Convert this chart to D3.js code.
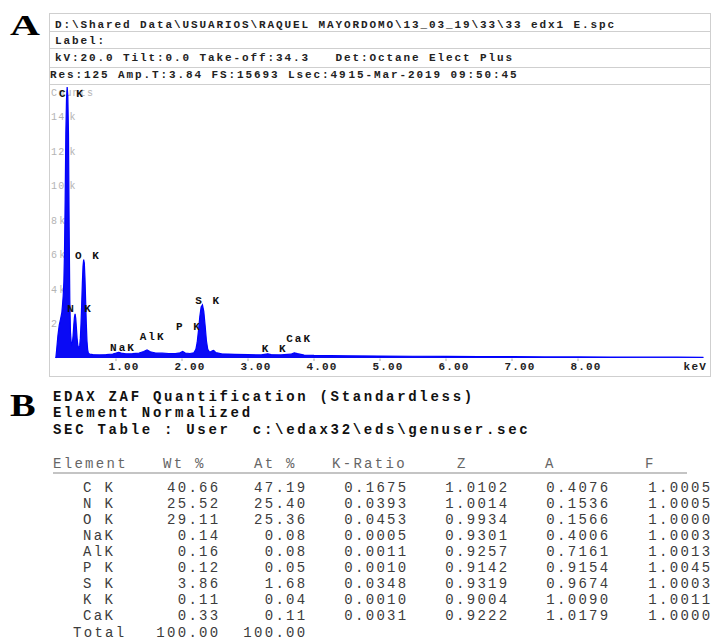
<!DOCTYPE html>
<html>
<head>
<meta charset="utf-8">
<script src="https://cdn.jsdelivr.net/npm/d3@7"></script>
<style>
  body { margin: 0; background: #fff; }
  text { white-space: pre; }
</style>
</head>
<body>
<svg id="chart" width="712" height="639"></svg>
<script>
// panel A header lines
const headerLines = [
  'D:\\Shared Data\\USUARIOS\\RAQUEL MAYORDOMO\\13_03_19\\33\\33 edx1 E.spc',
  'Label:',
  'kV:20.0 Tilt:0.0 Take-off:34.3   Det:Octane Elect Plus',
  'Res:125 Amp.T:3.84 FS:15693 Lsec:49'
]
const acqDate = '15-Mar-2019 09:50:45'

// spectrum, [keV, counts]
const spectrum = [
  [0.085, 0], [0.09, 60], [0.10, 450], [0.12, 1300], [0.14, 1900], [0.16, 2250],
  [0.18, 2650], [0.19, 3100], [0.20, 3600], [0.21, 4400], [0.22, 6200], [0.23, 9200],
  [0.24, 13000], [0.25, 15000], [0.26, 15693], [0.27, 15200], [0.28, 13000], [0.29, 7600],
  [0.30, 3400], [0.31, 1500], [0.32, 950], [0.33, 780], [0.34, 900], [0.35, 1300],
  [0.36, 1900], [0.37, 2350], [0.38, 2560], [0.39, 2300], [0.40, 1750], [0.41, 1150],
  [0.42, 780], [0.43, 620], [0.44, 580], [0.45, 700], [0.46, 1150], [0.47, 2000],
  [0.48, 3100], [0.49, 4300], [0.50, 5300], [0.51, 5700], [0.52, 5500], [0.53, 4600],
  [0.54, 3300], [0.55, 2000], [0.56, 1000], [0.57, 500], [0.58, 300], [0.60, 220],
  [0.65, 200], [0.75, 180], [0.85, 200], [0.95, 230], [1.00, 280], [1.04, 330],
  [1.08, 280], [1.15, 240], [1.25, 250], [1.35, 280], [1.42, 380], [1.47, 470],
  [1.52, 360], [1.60, 290], [1.70, 280], [1.80, 260], [1.90, 250], [1.97, 300],
  [2.01, 380], [2.05, 290], [2.12, 260], [2.18, 300], [2.21, 500], [2.23, 900],
  [2.25, 1600], [2.27, 2400], [2.29, 2950], [2.31, 3080], [2.33, 2700], [2.35, 1900],
  [2.37, 1000], [2.39, 500], [2.42, 330], [2.46, 420], [2.48, 440], [2.51, 320],
  [2.60, 240], [2.80, 210], [3.00, 190], [3.20, 180], [3.30, 240], [3.35, 200],
  [3.50, 180], [3.65, 220], [3.70, 300], [3.75, 250], [3.85, 170], [4.00, 150],
  [4.50, 130], [5.00, 110], [5.50, 100], [6.00, 90], [6.50, 80], [7.00, 75],
  [7.50, 65], [8.00, 60], [8.50, 55], [9.00, 50], [9.50, 45], [9.90, 40]
]

// peak labels: name, keV where the label starts, count level of its baseline
const peakNames = ['C K', 'N K', 'O K', 'NaK', 'AlK', 'P K', 'S K', 'K K', 'CaK']
const peakLabelKeV = [0.136, 0.26, 0.38, 0.91, 1.36, 1.91, 2.20, 3.21, 3.58]
const peakLabelCounts = [15100, 2660, 5730, 430, 1040, 1620, 3130, 350, 930]

const xTicks = [1, 2, 3, 4, 5, 6, 7, 8]
const yTicks = [2000, 4000, 6000, 8000, 10000, 12000, 14000]
const fullScale = 15693

// panel B
const quantLines = [
  'EDAX ZAF Quantification (Standardless)',
  'Element Normalized',
  'SEC Table : User  c:\\edax32\\eds\\genuser.sec'
]
const columns = ['Element', 'Wt %', 'At %', 'K-Ratio', 'Z', 'A', 'F']
const elements = ['C K', 'N K', 'O K', 'NaK', 'AlK', 'P K', 'S K', 'K K', 'CaK']
const wtPct = [40.66, 25.52, 29.11, 0.14, 0.16, 0.12, 3.86, 0.11, 0.33]
const atPct = [47.19, 25.40, 25.36, 0.08, 0.08, 0.05, 1.68, 0.04, 0.11]
const kRatio = [0.1675, 0.0393, 0.0453, 0.0005, 0.0011, 0.0010, 0.0348, 0.0010, 0.0031]
const zCorr = [1.0102, 1.0014, 0.9934, 0.9301, 0.9257, 0.9142, 0.9319, 0.9004, 0.9222]
const aCorr = [0.4076, 0.1536, 0.1566, 0.4006, 0.7161, 0.9154, 0.9674, 1.0090, 1.0179]
const fCorr = [1.0005, 1.0005, 1.0000, 1.0003, 1.0013, 1.0045, 1.0003, 1.0011, 1.0000]
const totalWt = 100.00
const totalAt = 100.00

const svg = d3.select('#chart')
const mono = 'Liberation Mono, DejaVu Sans Mono, monospace'
const serif = 'Liberation Serif, DejaVu Serif, serif'
const frameColor = '#cfcfcf'

// ---------- panel letters ----------
svg.append('text')
  .attr('font-family', serif)
  .attr('font-weight', 'bold')
  .attr('font-size', 30)
  .attr('transform', 'translate(10,35) scale(1.38,1)')
  .text('A')

svg.append('text')
  .attr('font-family', serif)
  .attr('font-weight', 'bold')
  .attr('font-size', 32)
  .attr('transform', 'translate(10,416) scale(1.2,1)')
  .text('B')

// ---------- panel A frame ----------
const frame = { left: 49.5, right: 710.5, top: 13.5, bottom: 376.5 }
const rowLines = [31.5, 48.5, 67.5, 84.5]

svg.append('rect')
  .attr('x', frame.left)
  .attr('y', frame.top)
  .attr('width', frame.right - frame.left)
  .attr('height', frame.bottom - frame.top)
  .attr('fill', 'none')
  .attr('stroke', frameColor)

svg.selectAll('.row-line')
  .data(rowLines)
  .enter()
  .append('line')
  .attr('class', 'row-line')
  .attr('x1', frame.left)
  .attr('x2', frame.right)
  .attr('y1', d => d)
  .attr('y2', d => d)
  .attr('stroke', frameColor)

const headerY = [28, 43.5, 61, 78]
const headerX = [55, 55, 55, 50]
svg.selectAll('.hdr')
  .data(headerLines)
  .enter()
  .append('text')
  .attr('class', 'hdr')
  .attr('x', (d, i) => headerX[i])
  .attr('y', (d, i) => headerY[i])
  .attr('font-family', mono)
  .attr('font-weight', 'bold')
  .attr('font-size', 11)
  .attr('letter-spacing', 1.9)
  .attr('fill', '#222')
  .text(d => d)

svg.append('text')
  .attr('x', 50 + headerLines[3].length * 8.5 + 1)
  .attr('y', 78)
  .attr('font-family', mono)
  .attr('font-weight', 'bold')
  .attr('font-size', 11)
  .attr('letter-spacing', 1.9)
  .attr('fill', '#222')
  .text(acqDate)

// ---------- spectrum ----------
const xPositionScale = d3.scaleLinear().domain([0, 10]).range([50, 710])
const yPositionScale = d3.scaleLinear().domain([0, fullScale]).range([358, 87])

// y tick labels (gray), the unit sits a little apart from the number
const ytick = svg.selectAll('.ytick')
  .data(yTicks)
  .enter()
  .append('text')
  .attr('class', 'ytick')
  .attr('x', 51)
  .attr('y', d => yPositionScale(d) + 4)
  .attr('font-family', mono)
  .attr('font-size', 10)
  .attr('letter-spacing', 1.2)
  .attr('fill', '#b4b4b4')

ytick.append('tspan').text(d => d / 1000)
ytick.append('tspan')
  .attr('dx', d => (d >= 10000 ? 4 : 1))
  .text('k')

svg.append('text')
  .attr('x', 51)
  .attr('y', 96)
  .attr('font-family', mono)
  .attr('font-size', 10)
  .attr('letter-spacing', 1.2)
  .attr('fill', '#b4b4b4')
  .text('Counts')

const area = d3.area()
  .x(d => xPositionScale(d[0]))
  .y0(yPositionScale(0))
  .y1(d => yPositionScale(d[1]))

const line = d3.line()
  .x(d => xPositionScale(d[0]))
  .y(d => yPositionScale(d[1]))

svg.append('path')
  .datum(spectrum)
  .attr('d', area)
  .attr('fill', '#0a0af5')

svg.append('path')
  .datum(spectrum)
  .attr('d', line)
  .attr('fill', 'none')
  .attr('stroke', '#0000ff')
  .attr('stroke-width', 1.2)

// x ticks and labels
svg.selectAll('.xtick-mark')
  .data(xTicks)
  .enter()
  .append('line')
  .attr('class', 'xtick-mark')
  .attr('x1', d => xPositionScale(d))
  .attr('x2', d => xPositionScale(d))
  .attr('y1', yPositionScale(0) + 0.5)
  .attr('y2', yPositionScale(0) + 3)
  .attr('stroke', '#aaa')

svg.selectAll('.xtick')
  .data(xTicks)
  .enter()
  .append('text')
  .attr('class', 'xtick')
  .attr('x', d => xPositionScale(d) + 8)
  .attr('y', 370)
  .attr('text-anchor', 'middle')
  .attr('font-family', mono)
  .attr('font-weight', 'bold')
  .attr('font-size', 11)
  .attr('letter-spacing', 1.2)
  .attr('fill', '#222')
  .text(d => d3.format('.2f')(d))

svg.append('text')
  .attr('x', 707)
  .attr('y', 370)
  .attr('text-anchor', 'end')
  .attr('font-family', mono)
  .attr('font-weight', 'bold')
  .attr('font-size', 11)
  .attr('letter-spacing', 1.2)
  .attr('fill', '#222')
  .text('keV')

// peak labels
svg.selectAll('.peak')
  .data(peakNames)
  .enter()
  .append('text')
  .attr('class', 'peak')
  .attr('x', (d, i) => xPositionScale(peakLabelKeV[i]))
  .attr('y', (d, i) => yPositionScale(peakLabelCounts[i]))
  .attr('font-family', mono)
  .attr('font-weight', 'bold')
  .attr('font-size', 11)
  .attr('letter-spacing', 2)
  .attr('fill', '#111')
  .text(d => d)

// ---------- panel B ----------
svg.selectAll('.quant')
  .data(quantLines)
  .enter()
  .append('text')
  .attr('class', 'quant')
  .attr('x', 53)
  .attr('y', (d, i) => 401 + i * 16.3)
  .attr('font-family', mono)
  .attr('font-weight', 'bold')
  .attr('font-size', 14)
  .attr('letter-spacing', 2.7)
  .attr('fill', '#111')
  .text(d => d)

const f2 = d3.format('.2f')
const f4 = d3.format('.4f')
const rows = elements.map((e, i) => [
  e, f2(wtPct[i]), f2(atPct[i]), f4(kRatio[i]), f4(zCorr[i]), f4(aCorr[i]), f4(fCorr[i])
])
rows.push(['Total', f2(totalWt), f2(totalAt)])

const rowScale = d3.scalePoint()
  .domain(d3.range(rows.length))
  .range([492, 636.5])

// header start positions and value right edges per column
const headerStart = d3.scaleOrdinal().domain(columns).range([53, 163, 254, 332, 457, 545, 645])
const valueEnd = d3.scaleOrdinal().domain(columns).range([0, 220.5, 307.5, 408.5, 509.5, 610.5, 712.5])

const tableFont = g => g
  .attr('font-family', mono)
  .attr('font-size', 14)
  .attr('letter-spacing', 2.3)

svg.selectAll('.col-head')
  .data(columns)
  .enter()
  .append('text')
  .attr('class', 'col-head')
  .attr('x', d => headerStart(d))
  .attr('y', 468)
  .call(tableFont)
  .attr('fill', '#666')
  .text(d => d)

svg.append('line')
  .attr('x1', 53)
  .attr('x2', 687)
  .attr('y1', 473)
  .attr('y2', 473)
  .attr('stroke', '#c4c4c4')
  .attr('stroke-width', 2)

const rowG = svg.selectAll('.row')
  .data(rows)
  .enter()
  .append('g')
  .attr('class', 'row')
  .attr('transform', (d, i) => 'translate(0,' + rowScale(i) + ')')

rowG.selectAll('text')
  .data(d => d.map((v, j) => ({ v, col: columns[j], j })))
  .enter()
  .append('text')
  .attr('x', d => {
    if (d.j === 0) return d.v === 'Total' ? 73 : 83
    return valueEnd(d.col)
  })
  .attr('text-anchor', d => d.j === 0 ? 'start' : 'end')
  .call(tableFont)
  .attr('fill', '#3c3c3c')
  .text(d => d.v)
</script>
</body>
</html>
